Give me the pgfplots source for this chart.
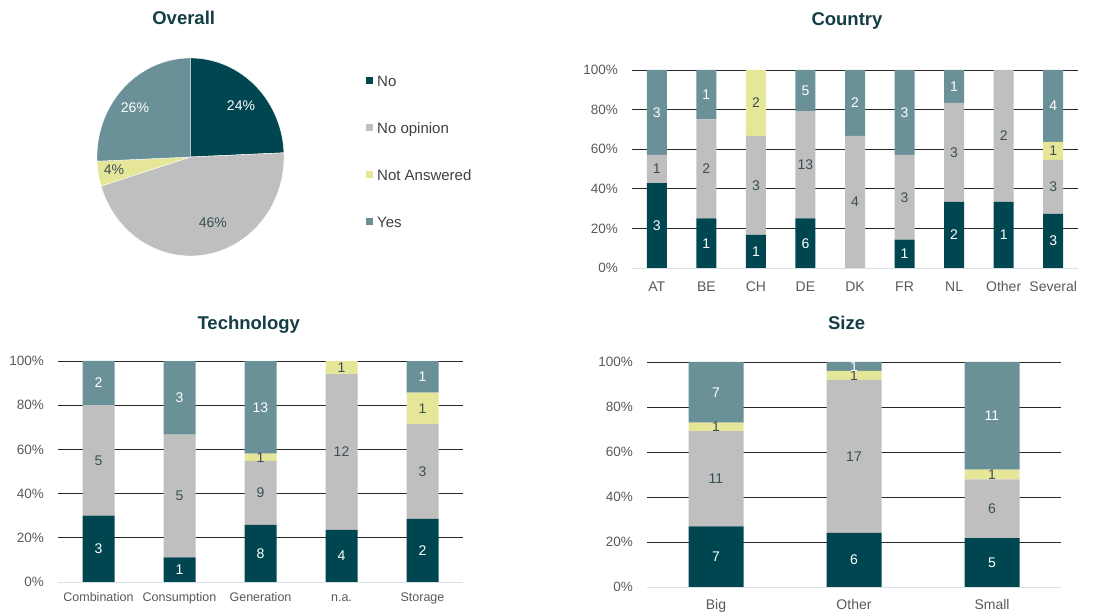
\documentclass[border=0pt]{standalone}
\usepackage{fontspec}
\setmainfont{Liberation Sans}
\usepackage{pgfplots}
\usepackage{pgfplotstable}
\pgfplotsset{compat=1.18}
\pgfkeys{/pgf/number format/assume math mode=true}

\definecolor{cNo}{RGB}{0,70,80}
\definecolor{cNoOp}{RGB}{191,191,191}
\definecolor{cNA}{RGB}{230,230,153}
\definecolor{cYes}{RGB}{106,145,152}
\definecolor{cTitle}{RGB}{20,62,70}
\definecolor{cTick}{RGB}{89,89,89}
\definecolor{cLeg}{RGB}{64,64,64}
\definecolor{cLabDark}{RGB}{58,80,86}
\definecolor{cGrid}{RGB}{40,40,40}
\definecolor{cZero}{RGB}{214,228,234}

\newcommand\fs[1]{\fontsize{#1}{#1}\selectfont}

% counts per category: No, No opinion, Not Answered, Yes
\pgfplotstableread{
x No NoOp NA Yes
0 3 1 0 3
1 1 2 0 1
2 1 3 2 0
3 6 13 0 5
4 0 4 0 2
5 1 3 0 3
6 2 3 0 1
7 1 2 0 0
8 3 3 1 4
}\tblCountry
\pgfplotstableread{
x No NoOp NA Yes
0 3 5 0 2
1 1 5 0 3
2 8 9 1 13
3 4 12 1 0
4 2 3 1 1
}\tblTech
\pgfplotstableread{
x No NoOp NA Yes
0 7 11 1 7
1 6 17 1 1
2 5 6 1 11
}\tblSize

% overall counts
\def\pNo{18}\def\pNoOp{34}\def\pNA{3}\def\pYes{19}
\pgfmathsetmacro\pTot{\pNo+\pNoOp+\pNA+\pYes}
\pgfmathsetmacro\aA{90-\pNo/\pTot*360}
\pgfmathsetmacro\aB{\aA-\pNoOp/\pTot*360}
\pgfmathsetmacro\aC{\aB-\pNA/\pTot*360}

\def\tot{(\thisrow{No}+\thisrow{NoOp}+\thisrow{NA}+\thisrow{Yes})}

\pgfplotsset{
  geo/.style={scale only axis, anchor=south west, xmin=-0.5, ymin=0, ymax=100},
  baraxis/.style={geo, ybar stacked, bar shift=0pt,
    ytick={20,40,60,80,100}, extra y ticks={0},
    extra y tick style={grid style={color=cZero, line width=0.9pt}},
    ymajorgrids, grid style={color=cGrid, line width=0.7pt},
    axis line style={draw=none}, major tick length=0pt, tick style={draw=none},
    yticklabel={\pgfmathprintnumber{\tick}\%},
    yticklabel style={anchor=east, inner sep=0pt, xshift=-14pt, font=\fs{13.5}, text=cTick},
    xticklabel style={anchor=base, inner sep=0pt, text=cTick},
    title style={anchor=base, font=\bfseries\fs{18.5}, text=cTitle},
    every axis plot/.append style={draw=none}},
  labaxis/.style={geo, hide axis, no markers, point meta=explicit,
    nodes near coords={\pgfmathfloatifflags{\pgfplotspointmeta}{0}{}{\pgfmathprintnumber{\pgfplotspointmeta}}},
    every node near coord/.style={anchor=center, font=\fs{14}},
    every axis plot/.append style={draw=none}},
}

\newcommand\barplots[1]{%
  \addplot[fill=cNo] table[x=x, y expr={\thisrow{No}/\tot*100}]{#1};
  \addplot[fill=cNoOp] table[x=x, y expr={\thisrow{NoOp}/\tot*100}]{#1};
  \addplot[fill=cNA] table[x=x, y expr={\thisrow{NA}/\tot*100}]{#1};
  \addplot[fill=cYes] table[x=x, y expr={\thisrow{Yes}/\tot*100}]{#1};
}
\newcommand\labelplots[1]{%
  \addplot[every node near coord/.append style={text=white}]
    table[x=x, meta=No, y expr={\thisrow{No}/2/\tot*100}]{#1};
  \addplot[every node near coord/.append style={text=cLabDark}]
    table[x=x, meta=NoOp, y expr={(\thisrow{No}+\thisrow{NoOp}/2)/\tot*100}]{#1};
  \addplot[every node near coord/.append style={text=cLabDark}]
    table[x=x, meta=NA, y expr={(\thisrow{No}+\thisrow{NoOp}+\thisrow{NA}/2)/\tot*100}]{#1};
  \addplot[every node near coord/.append style={text=white}]
    table[x=x, meta=Yes, y expr={(\thisrow{No}+\thisrow{NoOp}+\thisrow{NA}+\thisrow{Yes}/2)/\tot*100}]{#1};
}

\begin{document}
\begin{tikzpicture}
\path[use as bounding box] (0pt,0pt) rectangle (1101pt,616pt);

% ---------------- Overall (pie) ----------------
\begin{axis}[scale only axis, anchor=south west, at={(97pt,360pt)},
  width=187pt, height=198pt, hide axis, no markers,
  xmin=-1, xmax=1, ymin=-1, ymax=1,
  title={Overall}, title style={at={(0.4636,1)}, anchor=base, yshift=27pt, font=\bfseries\fs{18.5}, text=cTitle},
  legend image code/.code={\path[#1, draw=none] (0pt,-3.5pt) rectangle (7pt,3.5pt);},
  legend cell align=left,
  legend style={at={(axis description cs:1.4385,0.9141)}, anchor=north west,
    draw=none, fill=none, inner sep=0pt, row sep=36.2pt, column sep=4pt,
    font=\fs{15}, text=cLeg, nodes={inner sep=0pt, text height=10.8pt, text depth=0pt}},
]
\addplot[fill=cNo, draw=white, line width=0.4pt, domain=\aA:90, samples=60] ({cos(x)},{sin(x)}) -- (0,0) -- cycle;
\addplot[fill=cNoOp, draw=white, line width=0.4pt, domain=\aB:\aA, samples=90] ({cos(x)},{sin(x)}) -- (0,0) -- cycle;
\addplot[fill=cNA, draw=white, line width=0.4pt, domain=\aC:\aB, samples=20] ({cos(x)},{sin(x)}) -- (0,0) -- cycle;
\addplot[fill=cYes, draw=white, line width=0.4pt, domain=-270:\aC, samples=60] ({cos(x)},{sin(x)}) -- (0,0) -- cycle;
\addplot[forget plot, draw=none, nodes near coords, point meta=explicit symbolic,
  every node near coord/.style={anchor=center, font=\fs{14}, text=white}]
  coordinates {(0.54,0.515) [24\%] (-0.594,0.495) [26\%]};
\addplot[forget plot, draw=none, nodes near coords, point meta=explicit symbolic,
  every node near coord/.style={anchor=center, font=\fs{14}, text=cLabDark}]
  coordinates {(-0.818,-0.131) [4\%] (0.24,-0.667) [46\%]};
\legend{No, No opinion, Not Answered, Yes}
\end{axis}

% ---------------- Country ----------------
\begin{axis}[baraxis, at={(632pt,348pt)}, width=446pt, height=198pt, xmax=8.5, bar width=20pt,
  xtick={0,...,8}, xticklabels={AT,BE,CH,DE,DK,FR,NL,Other,Several},
  xticklabel style={yshift=-24pt, font=\fs{14}},
  title={Country}, title style={at={(0.482,1)}, yshift=38.5pt}]
\barplots{\tblCountry}
\end{axis}
\begin{axis}[labaxis, at={(632pt,348pt)}, width=446pt, height=198pt, xmax=8.5]
\labelplots{\tblCountry}
\end{axis}

% ---------------- Technology ----------------
\begin{axis}[baraxis, at={(58pt,34pt)}, width=405pt, height=221pt, xmax=4.5, bar width=32pt,
  xtick={0,...,4}, xticklabels={Combination,Consumption,Generation,n.a.,Storage},
  xticklabel style={yshift=-19.5pt, font=\fs{12.5}},
  title={Technology}, title style={at={(0.471,1)}, yshift=25.5pt}]
\barplots{\tblTech}
\end{axis}
\begin{axis}[labaxis, at={(58pt,34pt)}, width=405pt, height=221pt, xmax=4.5]
\labelplots{\tblTech}
\end{axis}

% ---------------- Size ----------------
\begin{axis}[baraxis, at={(647pt,29pt)}, width=414pt, height=225pt, xmax=2.5, bar width=55pt,
  xtick={0,...,2}, xticklabels={Big,Other,Small},
  xticklabel style={yshift=-23pt, font=\fs{14}},
  title={Size}, title style={at={(0.482,1)}, yshift=26.5pt}]
\barplots{\tblSize}
\end{axis}
\begin{axis}[labaxis, at={(647pt,29pt)}, width=414pt, height=225pt, xmax=2.5]
\labelplots{\tblSize}
\end{axis}
\end{tikzpicture}
\end{document}
